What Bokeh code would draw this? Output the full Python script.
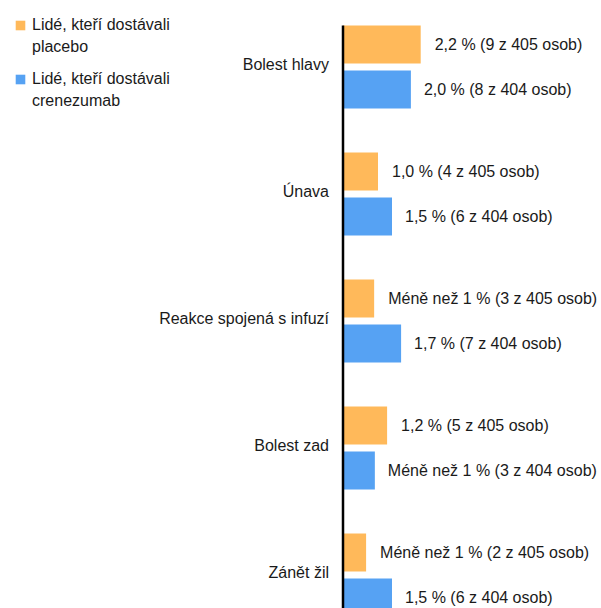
from bokeh.plotting import figure
from bokeh.models import Range1d, ColumnDataSource, Legend, LegendItem
from bokeh.core.properties import value
from bokeh.embed import file_html
from bokeh.resources import INLINE

# ---- data ----
categories = ["Bolest hlavy", "Únava", "Reakce spojená s infuzí", "Bolest zad", "Zánět žil"]
placebo_pct = [2.22, 1.0, 0.89, 1.26, 0.66]
crenezumab_pct = [1.94, 1.4, 1.66, 0.91, 1.4]
placebo_labels = ["2,2 % (9 z 405 osob)", "1,0 % (4 z 405 osob)", "Méně než 1 % (3 z 405 osob)",
                  "1,2 % (5 z 405 osob)", "Méně než 1 % (2 z 405 osob)"]
crenezumab_labels = ["2,0 % (8 z 404 osob)", "1,5 % (6 z 404 osob)", "1,7 % (7 z 404 osob)",
                     "Méně než 1 % (3 z 404 osob)", "1,5 % (6 z 404 osob)"]
placebo_name = ["Lidé, kteří dostávali", "placebo"]
crenezumab_name = ["Lidé, kteří dostávali", "crenezumab"]

ORANGE = "#FFB95A"
BLUE = "#56A2F3"
FONT = "Liberation Sans"
TXT = "#1a1a1a"
FS = "16px"

W, H = 601, 608
AXIS_PX = 342.5       # pixel position of value 0
PX_PER_UNIT = 35.0    # pixels per percent
GROUP_PX = 127.0
FIRST_CENTER_PX = 66.5
OFF = 22.5 / GROUP_PX
BAR_H = 38.0 / GROUP_PX

pos = list(range(len(categories)))
y_top = -FIRST_CENTER_PX / GROUP_PX
y_bottom = y_top + H / GROUP_PX

p = figure(width=W, height=H, output_backend="svg", toolbar_location=None,
           x_range=Range1d(-AXIS_PX / PX_PER_UNIT, (W - AXIS_PX) / PX_PER_UNIT),
           y_range=Range1d(y_bottom, y_top),
           min_border=0, min_border_left=0, min_border_right=0, min_border_top=0, min_border_bottom=0)
p.axis.visible = False
p.grid.visible = False
p.outline_line_color = None
p.background_fill_color = "white"
p.border_fill_color = "white"

src = ColumnDataSource(dict(
    cat=categories, y=pos,
    yo=[v - OFF for v in pos], yb=[v + OFF for v in pos],
    po=placebo_pct, cr=crenezumab_pct,
    pl=placebo_labels, cl=crenezumab_labels,
))

r_o = p.hbar(y="yo", right="po", left=0, height=BAR_H, source=src, fill_color=ORANGE, line_color=None)
r_b = p.hbar(y="yb", right="cr", left=0, height=BAR_H, source=src, fill_color=BLUE, line_color=None)

# axis line from top of first bar to bottom
p.segment(x0=[0], x1=[0], y0=[pos[0] - OFF - BAR_H / 2], y1=[y_bottom], line_color="black", line_width=2.5)

common = dict(text_font=value(FONT), text_font_size=FS, text_color=TXT, text_baseline="middle")
p.text(x="po", y="yo", text="pl", source=src, x_offset=14, text_align="left", **common)
p.text(x="cr", y="yb", text="cl", source=src, x_offset=13, text_align="left", **common)
p.text(x=0, y="y", text="cat", source=src, x_offset=-14, y_offset=-3, text_align="right", **common)


def make_legend(names, renderer, loc):
    return Legend(items=[LegendItem(label=names[0], renderers=[renderer]),
                         LegendItem(label=names[1], renderers=[])],
                  location=loc, margin=0, padding=0, spacing=2,
                  glyph_width=12, glyph_height=12, label_standoff=6, label_height=20,
                  label_text_font=FONT, label_text_font_size=FS, label_text_color=TXT,
                  background_fill_alpha=0, border_line_color=None)


p.add_layout(make_legend(placebo_name, r_o, (14, H - 57)))
p.add_layout(make_legend(crenezumab_name, r_b, (14, H - 111)))

open("out.html", "w").write(file_html(p, INLINE))
